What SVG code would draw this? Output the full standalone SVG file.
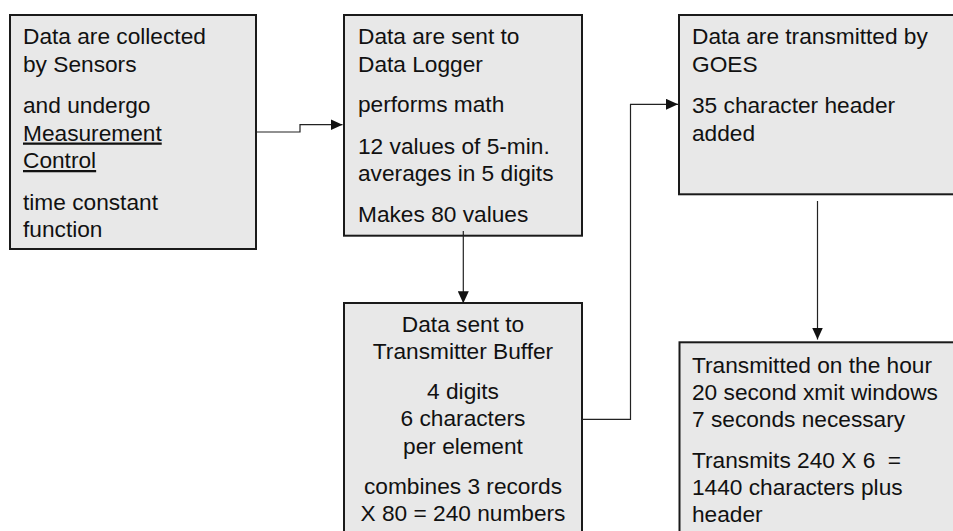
<svg xmlns="http://www.w3.org/2000/svg" width="953" height="531" viewBox="0 0 953 531">
  <defs>
    <marker id="arrow" viewBox="0 0 12 11" refX="12" refY="5.5" markerWidth="12" markerHeight="11" orient="auto" markerUnits="userSpaceOnUse">
      <path d="M0,0 L12,5.5 L0,11 Z" fill="#111"/>
    </marker>
    <style>
      .box { fill: #e8e8e8; stroke: #1a1a1a; stroke-width: 2; }
      .lbl { font-family: "Liberation Sans", Arial, sans-serif; font-size: 22.7px; fill: #111; }
      .mid { text-anchor: middle; }
      .u { text-decoration: underline; }
      .wire { fill: none; stroke: #222; stroke-width: 1.2; marker-end: url(#arrow); }
    </style>
  </defs>
  <rect width="953" height="531" fill="#ffffff"/>

  <!-- sensors -->
  <g id="sensors">
    <rect class="box" x="10" y="15" width="246" height="234"/>
    <text class="lbl" x="23" y="44">Data are collected</text>
    <text class="lbl" x="23" y="71.5">by Sensors</text>
    <text class="lbl" x="23" y="113">and undergo</text>
    <text class="lbl u" x="23" y="140.5">Measurement</text>
    <text class="lbl u" x="23" y="168">Control</text>
    <text class="lbl" x="23" y="209.5">time constant</text>
    <text class="lbl" x="23" y="237">function</text>
  </g>

  <!-- data logger -->
  <g id="data-logger">
    <rect class="box" x="344" y="15" width="238" height="220.7"/>
    <text class="lbl" x="358" y="44">Data are sent to</text>
    <text class="lbl" x="358" y="71.5">Data Logger</text>
    <text class="lbl" x="358" y="112">performs math</text>
    <text class="lbl" x="358" y="153.5">12 values of 5-min.</text>
    <text class="lbl" x="358" y="181">averages in 5 digits</text>
    <text class="lbl" x="358" y="222">Makes 80 values</text>
  </g>

  <!-- GOES transmission -->
  <g id="goes">
    <rect class="box" x="679" y="15" width="276" height="179.3"/>
    <text class="lbl" x="692" y="44">Data are transmitted by</text>
    <text class="lbl" x="692" y="71.5">GOES</text>
    <text class="lbl" x="692" y="113">35 character header</text>
    <text class="lbl" x="692" y="140.5">added</text>
  </g>

  <!-- transmitter buffer -->
  <g id="transmitter-buffer">
    <rect class="box" x="344" y="303" width="238" height="240"/>
    <text class="lbl mid" x="463" y="331.7">Data sent to</text>
    <text class="lbl mid" x="463" y="359">Transmitter Buffer</text>
    <text class="lbl mid" x="463" y="398.5">4 digits</text>
    <text class="lbl mid" x="463" y="426">6 characters</text>
    <text class="lbl mid" x="463" y="453.5">per element</text>
    <text class="lbl mid" x="463" y="493.5">combines 3 records</text>
    <text class="lbl mid" x="463" y="521">X 80 = 240 numbers</text>
  </g>

  <!-- hourly transmission -->
  <g id="hourly-transmission">
    <rect class="box" x="679.5" y="342.3" width="280" height="200"/>
    <text class="lbl" x="692" y="372.5">Transmitted on the hour</text>
    <text class="lbl" x="692" y="400">20 second xmit windows</text>
    <text class="lbl" x="692" y="427">7 seconds necessary</text>
    <text class="lbl" x="692" y="467.5" xml:space="preserve">Transmits 240 X 6  =</text>
    <text class="lbl" x="692" y="495">1440 characters plus</text>
    <text class="lbl" x="692" y="522">header</text>
  </g>

  <!-- connectors -->
  <g id="connectors">
    <path class="wire" d="M257,132 H300 V124.7 H342.5"/>
    <path class="wire" d="M463.3,231 V303.3"/>
    <path class="wire" d="M582,419.3 H630.5 V104.3 H678"/>
    <path class="wire" d="M817.5,201 V339.5"/>
  </g>
</svg>
